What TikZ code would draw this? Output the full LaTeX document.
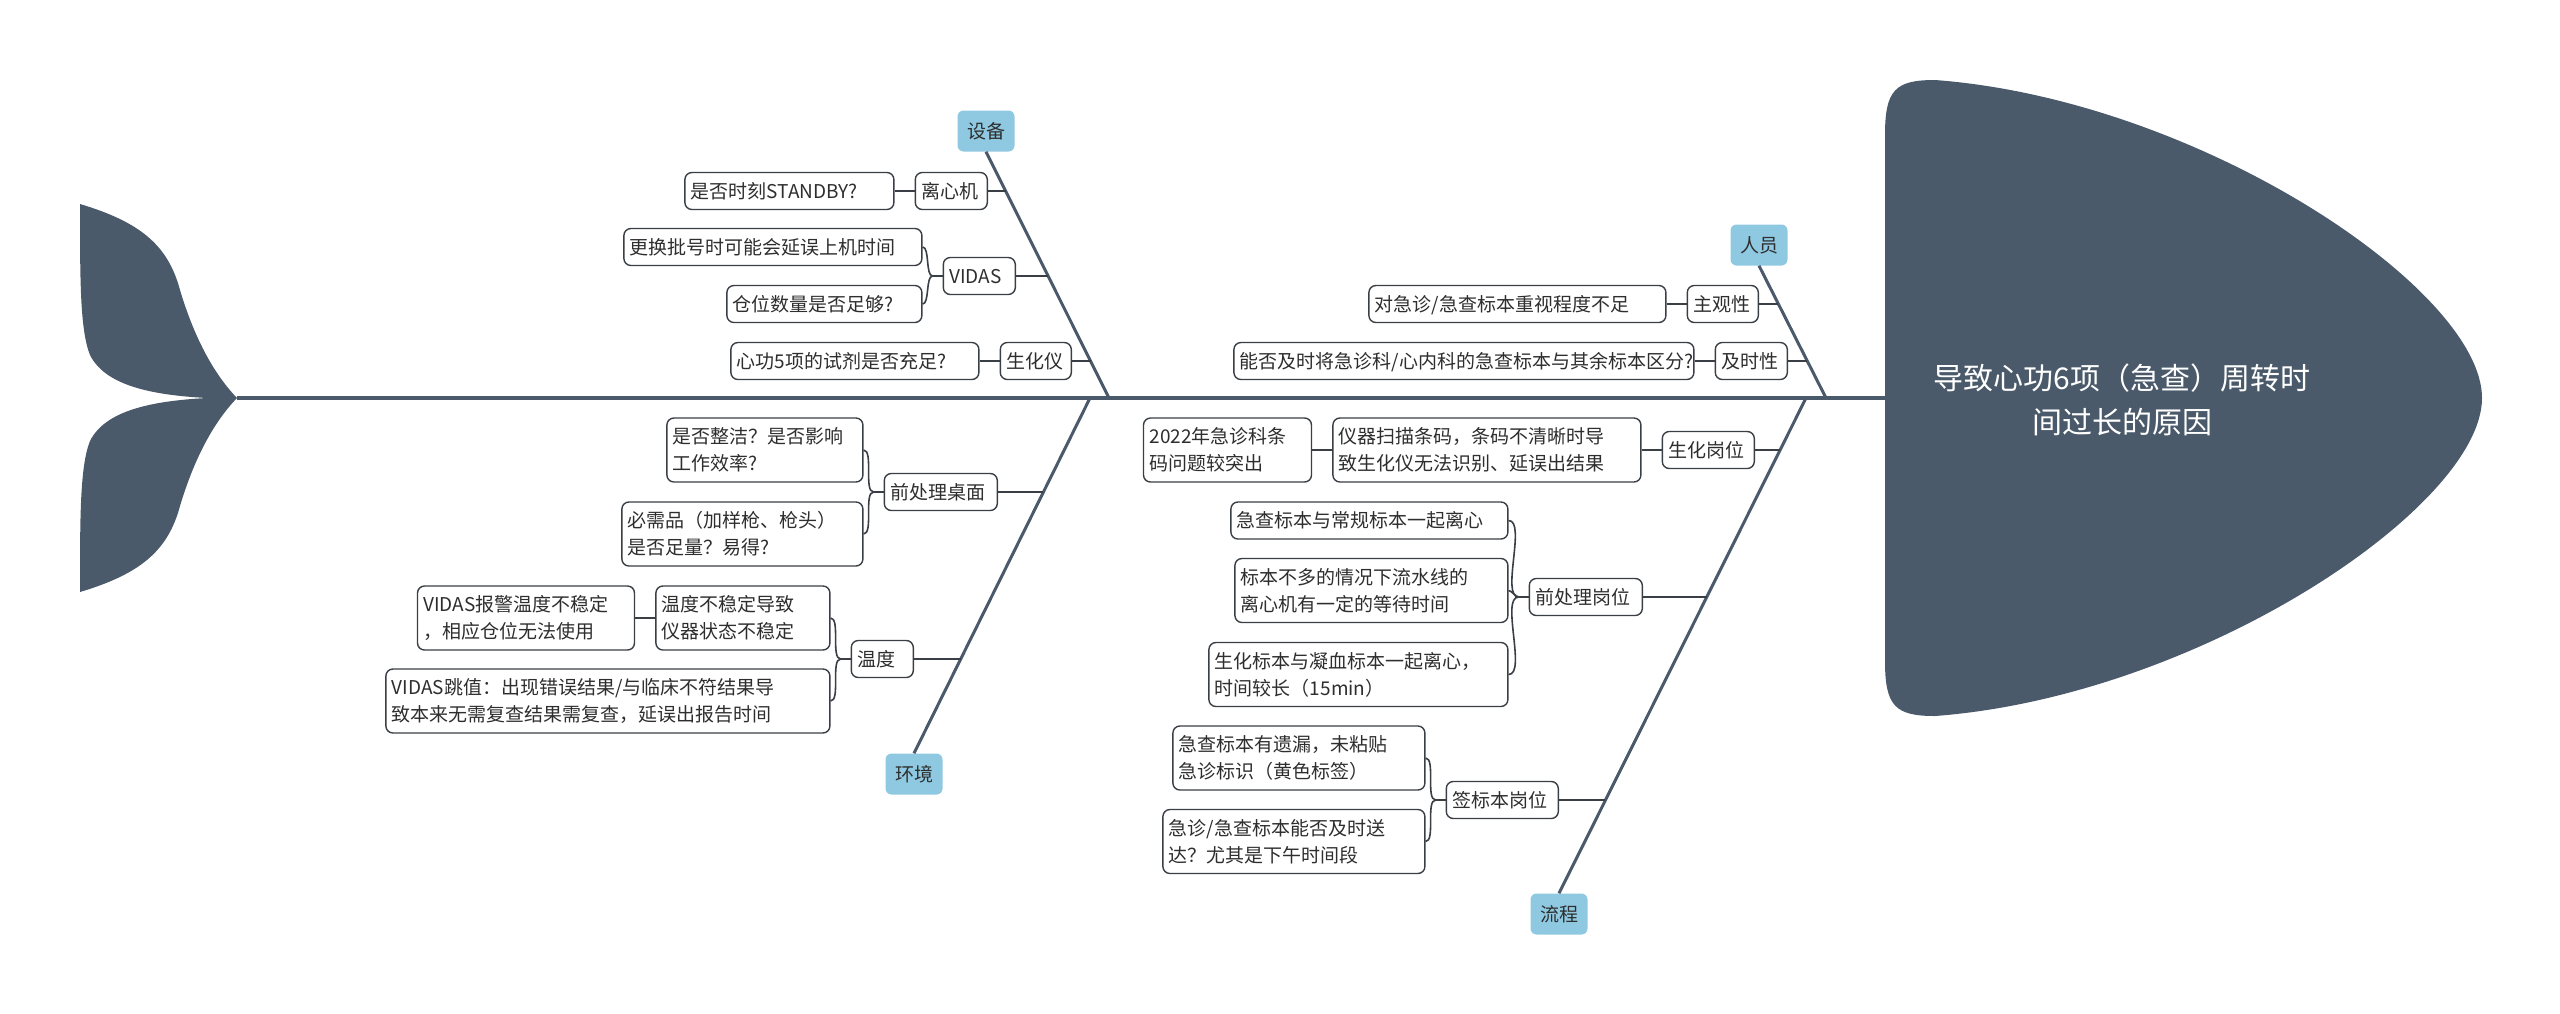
\documentclass[tikz,border=0pt]{standalone}
\usepackage{fontspec}
\setmainfont{Noto Sans CJK SC}
\usetikzlibrary{calc}
\definecolor{slate}{HTML}{4A5A6A}
\definecolor{lblue}{HTML}{8FC9E1}
\definecolor{ink}{HTML}{2E2E2E}
\definecolor{edge}{HTML}{3A3F45}
\newcommand{\hstrut}{\rule[-6.3pt]{0pt}{27pt}}
\tikzset{
  box/.style={draw=edge, line width=1.4pt, rounded corners=7pt, fill=white, text=ink,
    font=\fontsize{19}{27}\selectfont, inner xsep=6pt, inner ysep=5pt, align=left,
    execute at begin node=\hstrut, execute at end node=\hstrut},
  tw/.style={text width=#1pt},
  lbl/.style={fill=lblue, rounded corners=6pt, text=ink,
    font=\fontsize{19}{27}\selectfont, inner xsep=9.5pt, inner ysep=7pt,
    execute at begin node=\hstrut, execute at end node=\hstrut},
  bone/.style={draw=slate, line width=3pt},
  spine/.style={draw=slate, line width=3.5pt},
  link/.style={draw=edge, line width=2pt},
  curl/.style={draw=edge, line width=1.6pt, out=180, in=0, looseness=0.6},
  titletext/.style={text=white, font=\fontsize{30}{44}\selectfont, align=center},
}
\begin{document}
\begin{tikzpicture}[x=1pt,y=-1pt]
\useasboundingbox (0,0) rectangle (2560,1013);
% tail
\fill[slate] (237,398) .. controls (210,370) and (192,330) .. (180,290)
  .. controls (168,245) and (140,222) .. (80,204)
  .. controls (80,280) and (80,330) .. (90,355)
  .. controls (105,385) and (150,395) .. (207,398)
  .. controls (150,401) and (105,411) .. (90,441)
  .. controls (80,466) and (80,516) .. (80,592)
  .. controls (140,574) and (168,551) .. (180,506)
  .. controls (192,466) and (210,426) .. (237,398) -- cycle;
% head
\fill[slate] (1885,398) -- (1885,135) .. controls (1885,90) and (1895,80) .. (1935,80)
  .. controls (2200,100) and (2482,290) .. (2482,398)
  .. controls (2482,506) and (2200,696) .. (1935,716)
  .. controls (1895,716) and (1885,706) .. (1885,661) -- cycle;
\node[titletext] (title) at (2122,400) {导致心功6项（急查）周转时\\间过长的原因};
% spine
\coordinate (tailtip) at (237,398);
\coordinate (headl) at (1885,398);
\draw[spine] (tailtip) -- (headl);
% category labels
\node[lbl] (sb) at (986,131) {设备};
\node[lbl] (hj) at (914,774) {环境};
\node[lbl] (ry) at (1759,245) {人员};
\node[lbl] (lc) at (1559,914) {流程};
% bone junctions
\coordinate (j1) at (1109,398);
\coordinate (j2) at (1090,398);
\coordinate (j3) at (1826,398);
\coordinate (j4) at (1806,398);
\draw[bone] (sb.south) -- (j1);
\draw[bone] (j2) -- (hj.north);
\draw[bone] (ry.south) -- (j3);
\draw[bone] (j4) -- (lc.north);
% attach points on bones
\coordinate (a11) at (1005.5,191);
\coordinate (a12) at (1048,276);
\coordinate (a13) at (1090.5,361);
\coordinate (a21) at (1043.4,492);
\coordinate (a22) at (960.6,659);
\coordinate (a31) at (1778.3,304);
\coordinate (a32) at (1807.2,361);
\coordinate (a41) at (1780,450);
\coordinate (a42) at (1706.7,597);
\coordinate (a43) at (1605.4,800);

% ---------- 设备 ----------
\node[box,tw=60,anchor=east] (lxj) at (988,191) {离心机};
\node[box,tw=197,anchor=east] (lxj1) at ($(lxj.west)+(-20,0)$) {是否时刻STANDBY?};
\node[box,tw=60,anchor=east] (vidas) at (1016,276) {VIDAS};
\node[box,tw=286,anchor=east] (v1) at ($(vidas.west)+(-20,-29)$) {更换批号时可能会延误上机时间};
\node[box,tw=183,anchor=east] (v2) at ($(vidas.west)+(-20,28)$) {仓位数量是否足够?};
\node[box,tw=59,anchor=east] (shy) at (1072,361) {生化仪};
\node[box,tw=236,anchor=east] (shy1) at ($(shy.west)+(-20,0)$) {心功5项的试剂是否充足?};
\draw[link] (lxj.east) -- (a11);
\draw[link] (lxj1.east) -- (lxj.west);
\draw[link] (vidas.east) -- (a12);
\draw[link] (vidas.west) -- ++(-10,0) coordinate (vj);
\draw[curl] (vj) to (v1.east);
\draw[curl] (vj) to (v2.east);
\draw[link] (shy.east) -- (a13);
\draw[link] (shy1.east) -- (shy.west);

% ---------- 环境 ----------
\node[box,tw=101,anchor=east] (qcz) at (998,492) {前处理桌面};
\node[box,tw=184,anchor=east] (q1) at ($(qcz.west)+(-20,-42)$) {是否整洁？是否影响\\工作效率?};
\node[box,tw=229,anchor=east] (q2) at ($(qcz.west)+(-20,42)$) {必需品（加样枪、枪头）\\是否足量？易得?};
\node[box,tw=50,anchor=east] (wd) at (914,659) {温度};
\node[box,tw=162,anchor=east] (w1) at ($(wd.west)+(-20,-41)$) {温度不稳定导致\\仪器状态不稳定};
\node[box,tw=432,anchor=east] (w2) at ($(wd.west)+(-20,42)$) {VIDAS跳值：出现错误结果/与临床不符结果导\\致本来无需复查结果需复查，延误出报告时间};
\node[box,tw=205,anchor=east] (w11) at ($(w1.west)+(-20,0)$) {VIDAS报警温度不稳定\\，相应仓位无法使用};
\draw[link] (qcz.east) -- (a21);
\draw[link] (qcz.west) -- ++(-10,0) coordinate (qj);
\draw[curl] (qj) to (q1.east);
\draw[curl] (qj) to (q2.east);
\draw[link] (wd.east) -- (a22);
\draw[link] (wd.west) -- ++(-10,0) coordinate (wj);
\draw[curl] (wj) to (w1.east);
\draw[curl] (wj) to (w2.east);
\draw[link] (w11.east) -- (w1.west);

% ---------- 人员 ----------
\node[box,tw=59,anchor=east] (zgx) at (1759,304) {主观性};
\node[box,tw=285,anchor=east] (z1) at ($(zgx.west)+(-20,0)$) {对急诊/急查标本重视程度不足};
\node[box,tw=60,anchor=east] (jsx) at (1788,361) {及时性};
\node[box,tw=448,anchor=east] (js1) at ($(jsx.west)+(-20,0)$) {能否及时将急诊科/心内科的急查标本与其余标本区分?};
\draw[link] (zgx.east) -- (a31);
\draw[link] (z1.east) -- (zgx.west);
\draw[link] (jsx.east) -- (a32);
\draw[link] (js1.east) -- (jsx.west);

% ---------- 流程 ----------
\node[box,tw=80,anchor=east] (shgw) at (1755,450) {生化岗位};
\node[box,tw=296,anchor=east] (s1) at ($(shgw.west)+(-20,0)$) {仪器扫描条码，条码不清晰时导\\致生化仪无法识别、延误出结果};
\node[box,tw=156,anchor=east] (s11) at ($(s1.west)+(-20,0)$) {2022年急诊科条\\码问题较突出};
\node[box,tw=101,anchor=east] (qcgw) at (1643,597) {前处理岗位};
\node[box,tw=265,anchor=east] (p1) at ($(qcgw.west)+(-20,-76.5)$) {急查标本与常规标本一起离心};
\node[box,tw=261,anchor=east] (p2) at ($(qcgw.west)+(-20,-6.5)$) {标本不多的情况下流水线的\\离心机有一定的等待时间};
\node[box,tw=287,anchor=east] (p3) at ($(qcgw.west)+(-20,77.5)$) {生化标本与凝血标本一起离心，\\时间较长（15min）};
\node[box,tw=100,anchor=east] (qbb) at (1559,800) {签标本岗位};
\node[box,tw=240,anchor=east] (b1) at ($(qbb.west)+(-20,-42)$) {急查标本有遗漏，未粘贴\\急诊标识（黄色标签）};
\node[box,tw=250,anchor=east] (b2) at ($(qbb.west)+(-20,41.5)$) {急诊/急查标本能否及时送\\达？尤其是下午时间段};
\draw[link] (shgw.east) -- (a41);
\draw[link] (s1.east) -- (shgw.west);
\draw[link] (s11.east) -- (s1.west);
\draw[link] (qcgw.east) -- (a42);
\draw[link] (qcgw.west) -- ++(-10,0) coordinate (pj);
\draw[curl] (pj) to (p1.east);
\draw[curl] (pj) to (p2.east);
\draw[curl] (pj) to (p3.east);
\draw[link] (qbb.east) -- (a43);
\draw[link] (qbb.west) -- ++(-10,0) coordinate (bj);
\draw[curl] (bj) to (b1.east);
\draw[curl] (bj) to (b2.east);
\end{tikzpicture}
\end{document}
